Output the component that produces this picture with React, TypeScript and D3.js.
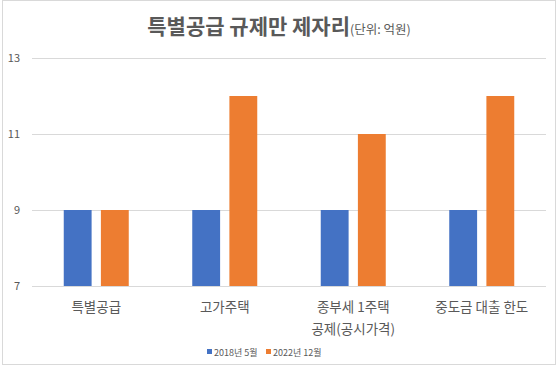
import React, { useEffect, useRef } from "react";
import * as d3 from "d3";

const categories = ["특별공급", "고가주택", "종부세 1주택\n공제(공시가격)", "중도금 대출 한도"];
const seriesNames = ["2018년 5월", "2022년 12월"];
const values2018 = [9, 9, 9, 9];
const values2022 = [9, 12, 11, 12];
const yTicks = [7, 9, 11, 13];

const colors = ["#4472C4", "#ED7D31"];
const font = "'Noto Sans CJK KR', 'Noto Sans', sans-serif";

export default function App() {
  const svgRef = useRef<SVGSVGElement>(null);

  useEffect(() => {
    const svg = d3.select(svgRef.current);
    svg.selectAll("*").remove();

    const width = 559;
    const height = 368;
    const margin = { top: 58, right: 13, bottom: 82, left: 32 };

    // outer frame
    svg
      .append("rect")
      .attr("x", 2.5)
      .attr("y", 0.5)
      .attr("width", 553)
      .attr("height", 364)
      .attr("fill", "#fff")
      .attr("stroke", "#d9d9d9");

    const x = d3
      .scaleBand()
      .domain(categories)
      .range([margin.left, width - margin.right]);

    const y = d3
      .scaleLinear()
      .domain([7, 13])
      .range([height - margin.bottom, margin.top]);

    const inner = d3
      .scaleBand()
      .domain(seriesNames)
      .range([x.bandwidth() / 2 - 32.5, x.bandwidth() / 2 + 32.5])
      .paddingInner(0.25);

    // gridlines
    svg
      .append("g")
      .selectAll("line")
      .data(yTicks)
      .enter()
      .append("line")
      .attr("x1", margin.left)
      .attr("x2", width - margin.right)
      .attr("y1", (d) => y(d) + 0.5)
      .attr("y2", (d) => y(d) + 0.5)
      .attr("stroke", "#d9d9d9");

    svg
      .append("g")
      .selectAll("text")
      .data(yTicks)
      .enter()
      .append("text")
      .attr("x", 20)
      .attr("y", (d) => y(d))
      .attr("dy", "0.35em")
      .attr("text-anchor", "end")
      .style("font-family", font)
      .style("font-size", "11px")
      .attr("fill", "#595959")
      .text((d) => d);

    const series = [values2018, values2022];
    series.forEach((vals, si) => {
      svg
        .append("g")
        .selectAll("rect")
        .data(vals)
        .enter()
        .append("rect")
        .attr("x", (d, i) => x(categories[i])! + inner(seriesNames[si])!)
        .attr("y", (d) => y(d))
        .attr("width", inner.bandwidth())
        .attr("height", (d) => y(7) - y(d))
        .attr("fill", colors[si]);
    });

    // category labels
    const labels = svg
      .append("g")
      .selectAll("text")
      .data(categories)
      .enter()
      .append("text")
      .attr("text-anchor", "middle")
      .style("font-family", font)
      .style("font-size", "13.5px")
      .attr("fill", "#595959");
    labels.each(function (d) {
      const t = d3.select(this);
      d.split("\n").forEach((line, li) => {
        t.append("tspan")
          .attr("x", x(d)! + x.bandwidth() / 2)
          .attr("y", 312 + li * 22)
          .text(line);
      });
    });

    // title
    const title = svg
      .append("text")
      .attr("x", 279)
      .attr("y", 34)
      .attr("text-anchor", "middle")
      .style("font-family", font)
      .attr("fill", "#595959");
    title
      .append("tspan")
      .style("font-size", "21px")
      .style("font-weight", "bold")
      .text("특별공급 규제만 제자리");
    title.append("tspan").style("font-size", "12.5px").text("(단위: 억원)");

    // legend
    const legendX = [207, 266];
    seriesNames.forEach((name, i) => {
      svg
        .append("rect")
        .attr("x", legendX[i])
        .attr("y", 349)
        .attr("width", 5)
        .attr("height", 5)
        .attr("fill", colors[i]);
      svg
        .append("text")
        .attr("x", legendX[i] + 7)
        .attr("y", 356)
        .style("font-family", font)
        .style("font-size", "9px")
        .attr("fill", "#595959")
        .text(name);
    });
  }, []);

  return (
    <div style={{ position: "absolute", left: 0, top: 0 }}>
      <svg ref={svgRef} width={559} height={368} style={{ display: "block" }}></svg>
    </div>
  );
}
